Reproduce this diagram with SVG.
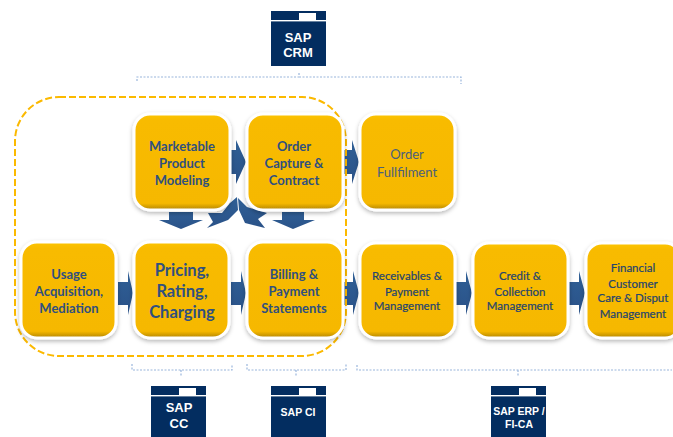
<svg xmlns="http://www.w3.org/2000/svg" width="673" height="437" viewBox="0 0 673 437">
<defs>
<linearGradient id="gold" x1="0" y1="0" x2="0" y2="1"><stop offset="0" stop-color="#fcc400"/><stop offset="0.07" stop-color="#f8bb00"/><stop offset="0.93" stop-color="#f6b800"/><stop offset="0.985" stop-color="#bf8f08"/></linearGradient>
<linearGradient id="blue" x1="0" y1="0" x2="0" y2="1"><stop offset="0" stop-color="#2f5f96"/><stop offset="1" stop-color="#2a5288"/></linearGradient>
<filter id="sh" x="-15%" y="-15%" width="130%" height="130%"><feDropShadow dx="0" dy="2" stdDeviation="2" flood-color="#000" flood-opacity="0.28"/></filter>
<g id="sys"><rect x="0" y="0" width="55" height="55" fill="#032d60"/><rect x="28" y="2" width="17" height="7" fill="#fff"/><rect x="0" y="9" width="55" height="1.4" fill="#fff"/></g>
</defs>
<style>
.box{fill:url(#gold);stroke:#fff;stroke-width:3;filter:url(#sh)}
.t{font-family:Lato,"Liberation Sans",sans-serif;font-weight:700;font-size:13px;fill:#30507f;text-anchor:middle}
.l{font-weight:400;font-size:13px;fill:#4a5f7d}
.m{font-weight:400;font-size:11.5px;fill:#24446f;stroke:#24446f;stroke-width:0.2}
.big{font-size:16.5px}
.s{font-family:"Liberation Sans",Arial,sans-serif;font-weight:700;fill:#fff;text-anchor:middle}
.ar{fill:url(#blue)}
.br{fill:none;stroke:#9ab6dc;stroke-width:1.2;stroke-dasharray:2 1.5}
</style>
<g id="connectors">
<path class="ar" d="M230 150H236V140L246 162L236 184V174H230Z"/>
<path class="ar" d="M343 150H352V140L359 162L352 184V174H343Z"/>
<path class="ar" d="M118 282H128V271L133 293L128 315V305H118Z"/>
<path class="ar" d="M231 282H241V271L246 293L241 315V305H231Z"/>
<path class="ar" d="M344 282H353V271L359 293L353 315V305H344Z"/>
<path class="ar" d="M456 282H466V271L472 293L466 315V305H456Z"/>
<path class="ar" d="M569 282H579V271L585 293L579 315V305H569Z"/>
<path class="ar" d="M169 212H193V220H203L181 229L159 220H169Z"/>
<path class="ar" d="M282 212H304V220H315L293 229L272 220H282Z"/>
<path class="ar" d="M208 213L222 213L230 203L237 197L238 210L228 220L207 228L213 222Z"/>
<path class="ar" d="M238 198L247 207L267 213L258 219L265 228L245 223L239 210Z"/>
<path class="br" d="M137 81V77H299V72M299 77H461V84"/>
<path class="br" d="M132 364V370H232V364M181 370V376M247 364V370H346V364M296 370V376M357 365V370H672M518 370V377"/>
<rect x="15" y="97" width="331" height="259" rx="44" ry="44" fill="none" stroke="#fbb900" stroke-width="2" stroke-dasharray="7 3"/>
</g>
<g id="n-sap-crm"><use href="#sys" x="271" y="11"/><text class="s" x="298" y="42" font-size="13">SAP</text><text class="s" x="298" y="57" font-size="13">CRM</text></g>
<g id="n-marketable"><rect class="box" x="134" y="114" width="96" height="96" rx="16"/><text class="t" x="182" y="151">Marketable</text><text class="t" x="182" y="168">Product</text><text class="t" x="182" y="185">Modeling</text></g>
<g id="n-order-capture"><rect class="box" x="247" y="114" width="96" height="96" rx="16"/><text class="t" x="294" y="151">Order</text><text class="t" x="294" y="168">Capture &amp;</text><text class="t" x="294" y="185">Contract</text></g>
<g id="n-order-fulfilment"><rect class="box" x="360" y="114" width="95" height="96" rx="16"/><text class="t l" x="407" y="159">Order</text><text class="t l" x="407" y="177">Fullfilment</text></g>
<g id="n-usage"><rect class="box" x="21" y="242" width="95" height="96" rx="16"/><text class="t" x="69" y="279">Usage</text><text class="t" x="69" y="296">Acquisition,</text><text class="t" x="69" y="313">Mediation</text></g>
<g id="n-pricing"><rect class="box" x="134" y="242" width="95" height="96" rx="16"/><text class="t big" x="182" y="276">Pricing,</text><text class="t big" x="182" y="297">Rating,</text><text class="t big" x="182" y="318">Charging</text></g>
<g id="n-billing"><rect class="box" x="247" y="242" width="96" height="96" rx="16"/><text class="t" x="294" y="279">Billing &amp;</text><text class="t" x="294" y="296">Payment</text><text class="t" x="294" y="313">Statements</text></g>
<g id="n-receivables"><rect class="box" x="360" y="243" width="95" height="95" rx="16"/><text class="t m" x="407" y="280">Receivables &amp;</text><text class="t m" x="407" y="296">Payment</text><text class="t m" x="407" y="310">Management</text></g>
<g id="n-credit"><rect class="box" x="473" y="243" width="95" height="95" rx="16"/><text class="t m" x="520" y="280">Credit &amp;</text><text class="t m" x="520" y="296">Collection</text><text class="t m" x="520" y="310">Management</text></g>
<g id="n-financial"><rect class="box" x="586" y="243" width="95" height="95" rx="16"/><text class="t m" x="633" y="272">Financial</text><text class="t m" x="633" y="288">Customer</text><text class="t m" x="633" y="302">Care &amp; Disput</text><text class="t m" x="633" y="318">Management</text></g>
<g id="n-sap-cc"><use href="#sys" x="151" y="386"/><text class="s" x="179" y="412" font-size="13">SAP</text><text class="s" x="179" y="428" font-size="13">CC</text></g>
<g id="n-sap-ci"><use href="#sys" x="271" y="386"/><text class="s" x="298" y="416" font-size="10.5">SAP CI</text></g>
<g id="n-sap-erp"><use href="#sys" x="491" y="386"/><text class="s" x="519" y="415" font-size="10.5">SAP ERP /</text><text class="s" x="519" y="428" font-size="10.5">FI-CA</text></g>
</svg>
